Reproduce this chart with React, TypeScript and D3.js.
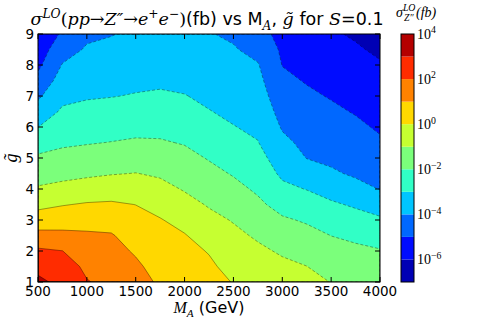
import React from 'react';
import * as d3 from 'd3';

// grid of the scan
const massA = [500, 750, 1000, 1250, 1500, 1750, 2000, 2250, 2500, 2750, 3000, 3250, 3500, 3750, 4000];
const gTilde = [1, 1.5, 2, 2.5, 3, 3.5, 4, 4.5, 5, 5.5, 6, 6.5, 7, 7.5, 8, 8.5, 9];

// log10(sigma / fb), one row per M_A value, g from 1 to 9
const logSigma = [
  [3.2, 2.74, 2.16, 1.29, 0.47, -0.25, -0.9, -1.39, -1.86, -2.41, -3.01, -3.58, -4.15, -4.7, -5.2, -5.5, -5.8],
  [2.75, 2.45, 2.01, 1.23, 0.57, -0.05, -0.73, -1.27, -1.73, -2.14, -2.51, -2.87, -3.23, -3.59, -3.95, -4.4, -4.86],
  [2.05, 1.81, 1.47, 1.13, 0.66, 0.08, -0.57, -1.16, -1.62, -2.06, -2.41, -2.76, -3.08, -3.36, -3.63, -3.9, -4.18],
  [1.75, 1.52, 1.3, 1.07, 0.64, 0.12, -0.46, -1.05, -1.51, -1.98, -2.34, -2.69, -3.03, -3.28, -3.53, -3.78, -4.04],
  [1.4, 1.16, 0.9, 0.6, 0.3, -0.01, -0.49, -0.98, -1.44, -1.89, -2.26, -2.6, -2.95, -3.19, -3.41, -3.63, -3.85],
  [0.85, 0.65, 0.45, 0.25, 0.05, -0.31, -0.72, -1.12, -1.52, -1.92, -2.25, -2.57, -2.89, -3.14, -3.36, -3.58, -3.8],
  [0.65, 0.45, 0.25, 0.05, -0.29, -0.69, -1.07, -1.4, -1.73, -2.06, -2.36, -2.67, -2.97, -3.2, -3.41, -3.63, -3.85],
  [0.32, 0.15, -0.05, -0.4, -0.74, -1.08, -1.41, -1.74, -2.06, -2.36, -2.67, -2.97, -3.17, -3.37, -3.56, -3.76, -3.95],
  [-0.04, -0.29, -0.54, -0.79, -1.06, -1.4, -1.74, -2.07, -2.37, -2.67, -2.97, -3.17, -3.36, -3.55, -3.74, -3.92, -4.15],
  [-0.3, -0.56, -0.83, -1.12, -1.47, -1.82, -2.14, -2.42, -2.69, -2.97, -3.17, -3.37, -3.56, -3.75, -3.94, -4.29, -4.7],
  [-0.55, -0.81, -1.11, -1.5, -1.88, -2.33, -2.79, -3.17, -3.48, -3.8, -4.08, -4.32, -4.57, -4.81, -5.02, -5.14, -5.25],
  [-0.75, -0.99, -1.36, -1.72, -2.1, -2.56, -3.03, -3.54, -4.02, -4.22, -4.43, -4.64, -4.85, -5.06, -5.27, -5.49, -5.7],
  [-1.02, -1.35, -1.67, -2.01, -2.43, -2.87, -3.36, -3.88, -4.17, -4.39, -4.62, -4.84, -5.06, -5.27, -5.48, -5.69, -5.9],
  [-1.2, -1.51, -1.82, -2.18, -2.64, -3.12, -3.71, -4.12, -4.36, -4.6, -4.83, -5.06, -5.27, -5.48, -5.69, -5.9, -6.1],
  [-1.34, -1.64, -1.94, -2.38, -2.86, -3.44, -4.03, -4.31, -4.6, -4.88, -5.11, -5.31, -5.52, -5.72, -5.92, -6.15, -6.4],
];

const levels = [-7, -6, -5, -4, -3, -2, -1, 0, 1, 2, 3, 4];
const xTicks = [500, 1000, 1500, 2000, 2500, 3000, 3500, 4000];
const yTicks = [1, 2, 3, 4, 5, 6, 7, 8, 9];
const cbarTicks = [4, 2, 0, -2, -4, -6];

const W = 491, H = 327;
const L = 38, R = 380, T = 34, B = 282;
const CB = { x: 401, w: 13 };

const SANS = 'DejaVu Sans';
const SERIF = 'Liberation Serif';

// matplotlib "jet"
const jr = d3.scaleLinear().domain([0, 0.35, 0.66, 0.89, 1]).range([0, 0, 1, 1, 0.5]);
const jg = d3.scaleLinear().domain([0, 0.125, 0.375, 0.64, 0.91, 1]).range([0, 0, 1, 1, 0, 0]);
const jb = d3.scaleLinear().domain([0, 0.11, 0.34, 0.65, 1]).range([0.5, 1, 1, 0, 0]);
const jet = (t: number) => d3.rgb(jr(t) * 255, jg(t) * 255, jb(t) * 255).formatHex();
const bandColor = (k: number) => jet((k + 0.5) / (levels.length - 1));

type Seg = { t: string; k: 'm' | 'r' | 's'; sup?: boolean; sub?: boolean; x?: number };

function Rich({ segs, size, serif = SERIF, ...rest }: { segs: Seg[]; size: number; serif?: string; [k: string]: any }) {
  let cur = 0;
  return (
    <text {...rest} fontSize={size} style={{ whiteSpace: 'pre' }}>
      {segs.map((s, i) => {
        const target = s.sup ? -0.4 * size : s.sub ? 0.28 * size : 0;
        const dy = target - cur;
        cur = target;
        return (
          <tspan
            key={i}
            x={s.x}
            dy={dy}
            fontSize={s.sup || s.sub ? size * 0.7 : size}
            fontFamily={s.k === 's' ? SANS : serif}
            fontStyle={s.k === 'm' ? 'italic' : 'normal'}
          >
            {s.t}
          </tspan>
        );
      })}
    </text>
  );
}

const titleSegs: Seg[] = [
  { t: 'σ', k: 'm' },
  { t: 'LO', k: 'm', sup: true },
  { t: '(', k: 'r' },
  { t: 'pp', k: 'm' },
  { t: '→', k: 'r' },
  { t: 'Z″', k: 'm' },
  { t: '→', k: 'r' },
  { t: 'e', k: 'm' },
  { t: '+', k: 'r', sup: true },
  { t: 'e', k: 'm' },
  { t: '−', k: 'r', sup: true },
  { t: ')', k: 'r' },
  { t: '(fb) vs M', k: 's' },
  { t: 'A', k: 'm', sub: true },
  { t: ', ', k: 's' },
  { t: 'g̃', k: 'm' },
  { t: ' for ', k: 's' },
  { t: 'S', k: 'm' },
  { t: '=0.1', k: 's' },
];

export default function App() {
  const nx = massA.length, ny = gTilde.length;
  const values: number[] = [];
  for (let j = 0; j < ny; j++) for (let i = 0; i < nx; i++) values.push(logSigma[i][j]);

  const x = d3.scaleLinear().domain([500, 4000]).range([L, R]);
  const y = d3.scaleLinear().domain([1, 9]).range([B, T]);
  const gx = d3.scaleLinear().domain([0.5, nx - 0.5]).range([massA[0], massA[nx - 1]]).clamp(true);
  const gy = d3.scaleLinear().domain([0.5, ny - 0.5]).range([gTilde[0], gTilde[ny - 1]]).clamp(true);
  const proj = d3.geoTransform({
    point(px: number, py: number) {
      (this as any).stream.point(x(gx(px)), y(gy(py)));
    },
  });
  const path = d3.geoPath(proj);
  const bands = d3.contours().size([nx, ny]).thresholds(levels)(values);

  const c = d3.scaleLinear().domain([-7, 4]).range([B, T]);

  return (
    <svg width={W} height={H} style={{ position: 'absolute', left: 0, top: 0, background: '#fff' }}>
      <defs>
        <clipPath id="plot">
          <rect x={L} y={T} width={R - L} height={B - T} />
        </clipPath>
      </defs>
      <g clipPath="url(#plot)">
        {bands.map((b, k) => (
          <path key={k} d={path(b as any) || ''} fill={bandColor(k)} stroke={bandColor(k)} strokeWidth={0.3} />
        ))}
        {bands.map((b, k) =>
          k === 0 ? null : (
            <path
              key={'l' + k}
              d={path(b as any) || ''}
              fill="none"
              stroke="#000"
              strokeOpacity={0.5}
              strokeWidth={0.7}
              strokeDasharray={b.value < 0 ? '3,2' : undefined}
            />
          )
        )}
      </g>
      <rect x={L} y={T} width={R - L} height={B - T} fill="none" stroke="#000" strokeWidth={1} />
      {xTicks.map((t) => (
        <g key={'x' + t}>
          <line x1={x(t)} x2={x(t)} y1={B} y2={B - 5} stroke="#000" />
          <line x1={x(t)} x2={x(t)} y1={T} y2={T + 5} stroke="#000" />
          <text x={x(t)} y={296} textAnchor="middle" fontFamily={SANS} fontSize={13.5}>
            {t}
          </text>
        </g>
      ))}
      {yTicks.map((t) => (
        <g key={'y' + t}>
          <line x1={L} x2={L + 5} y1={y(t)} y2={y(t)} stroke="#000" />
          <line x1={R} x2={R - 5} y1={y(t)} y2={y(t)} stroke="#000" />
          <text x={34} y={y(t) + 5} textAnchor="end" fontFamily={SANS} fontSize={13.5}>
            {t}
          </text>
        </g>
      ))}
      <Rich
        size={16}
        x={209}
        y={313}
        textAnchor="middle"
        segs={[
          { t: 'M', k: 'm' },
          { t: 'A', k: 'm', sub: true },
          { t: ' (GeV)', k: 's' },
        ]}
      />
      <text
        transform={`translate(17,${(T + B) / 2}) rotate(-90)`}
        textAnchor="middle"
        fontFamily={SERIF}
        fontStyle="italic"
        fontSize={18}
      >
        g̃
      </text>
      <Rich size={17.5} serif="DejaVu Serif" x={207} y={25} textAnchor="middle" segs={titleSegs} />

      {levels.slice(0, -1).map((lv, k) => (
        <rect key={'c' + k} x={CB.x} y={c(levels[k + 1])} width={CB.w} height={c(lv) - c(levels[k + 1])} fill={bandColor(k)} />
      ))}
      <rect x={CB.x} y={T} width={CB.w} height={B - T} fill="none" stroke="#000" strokeWidth={1} />
      {cbarTicks.map((t) => (
        <Rich
          key={'cb' + t}
          size={14}
          x={417}
          y={c(t) + 5}
          segs={[
            { t: '10', k: 'r' },
            { t: t < 0 ? '−' + -t : String(t), k: 'r', sup: true },
          ]}
        />
      ))}
      <Rich
        size={14}
        x={396}
        y={17}
        segs={[
          { t: 'σ', k: 'm' },
          { t: 'LO', k: 'm', sup: true },
          { t: 'Z″', k: 'm', sub: true, x: 404 },
          { t: '(fb)', k: 'm', x: 416 },
        ]}
      />
    </svg>
  );
}
